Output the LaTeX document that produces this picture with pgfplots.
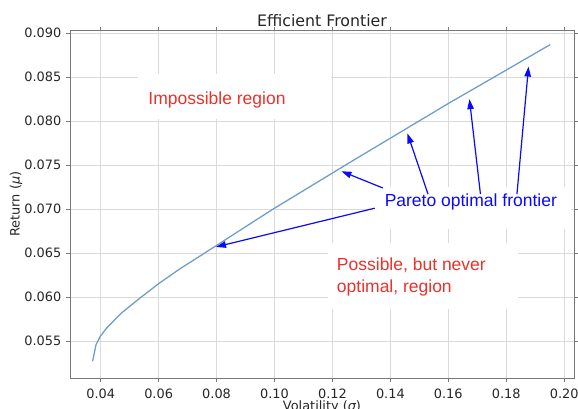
\documentclass[border=0pt]{standalone}
\usepackage{fontspec}
\setmainfont{DejaVu Sans}
\newfontfamily\annfont{Liberation Sans}
\usepackage{pgfplots}
\pgfplotsset{compat=1.18}
\usetikzlibrary{arrows.meta}

\definecolor{frontier}{RGB}{112,158,202}
\definecolor{gridgray}{RGB}{218,218,218}
\definecolor{framegray}{RGB}{120,120,120}
\definecolor{annred}{RGB}{232,50,44}
\definecolor{annblue}{RGB}{10,10,250}

\begin{document}
\begin{tikzpicture}
\begin{axis}[
  name=ax, at={(0,0)}, anchor=south west,
  scale only axis, width=504pt, height=347.5pt,
  xmin=0.0294, xmax=0.2034, ymin=0.0508, ymax=0.0903,
  xtick={0.04,0.06,0.08,0.10,0.12,0.14,0.16,0.18,0.20},
  xticklabels={0.04,0.06,0.08,0.10,0.12,0.14,0.16,0.18,0.20},
  ytick={0.055,0.060,0.065,0.070,0.075,0.080,0.085,0.090},
  yticklabels={0.055,0.060,0.065,0.070,0.075,0.080,0.085,0.090},
  grid=major, major grid style={gridgray, line width=0.8pt},
  axis line style={framegray, line width=0.8pt},
  tick align=outside, major tick length=3.5pt,
  tick style={framegray, line width=0.8pt},
  ticklabel style={font=\fontsize{12.9}{14}\selectfont, text=black!85, inner sep=0pt},
  xticklabel style={anchor=north}, xticklabel shift=7pt,
  yticklabel style={anchor=east}, yticklabel shift=5pt,
  scaled ticks=false,
]
% white label boxes over the grid
\fill[white] (axis cs:0.0529,0.0853) rectangle (axis cs:0.1194,0.0802);
\fill[white] (axis cs:0.1184,0.0662) rectangle (axis cs:0.1839,0.0587);
\fill[white] (axis cs:0.1339,0.0725) rectangle (axis cs:0.2025,0.0677);

% efficient frontier
\addplot[frontier, line width=1.3pt] coordinates {
  (0.0372,0.0527) (0.0384,0.0546) (0.0398,0.0555) (0.0421,0.0565)
  (0.0472,0.0582) (0.0536,0.0599) (0.0599,0.0615) (0.0673,0.0632)
  (0.0754,0.0649) (0.0846,0.06685) (0.0995,0.0700) (0.1260,0.0753)
  (0.1600,0.0820) (0.1800,0.0858) (0.1952,0.0887)
};

% annotations
\node[anchor=base west, inner sep=0pt, text=annred, font=\annfont\fontsize{17.5}{22}\selectfont]
  at (axis cs:0.0564,0.0819) {Impossible region};
\node[anchor=base west, inner sep=0pt, text=annred, font=\annfont\fontsize{17.5}{22}\selectfont]
  at (axis cs:0.1215,0.0630) {Possible, but never};
\node[anchor=base west, inner sep=0pt, text=annred, font=\annfont\fontsize{17.5}{22}\selectfont]
  at (axis cs:0.1215,0.0605) {optimal, region};
\node[anchor=base west, inner sep=0pt, text=annblue, font=\annfont\fontsize{17.5}{22}\selectfont]
  at (axis cs:0.1380,0.07035) {Pareto optimal frontier};

\begin{scope}[annblue, line width=1.2pt, -{Triangle[length=10pt,width=6.5pt]}]
\draw (axis cs:0.1374,0.0724) -- (axis cs:0.1231,0.0743);
\draw (axis cs:0.1530,0.0717) -- (axis cs:0.1459,0.0786);
\draw (axis cs:0.1711,0.0717) -- (axis cs:0.1673,0.0825);
\draw (axis cs:0.1837,0.0717) -- (axis cs:0.1877,0.0862);
\draw (axis cs:0.1346,0.0701) -- (axis cs:0.0798,0.0657);
\end{scope}
\end{axis}

\node[anchor=base, inner sep=0pt, font=\fontsize{15.8}{18}\selectfont, text=black!85]
  at ([yshift=4pt]ax.north) {Efficient Frontier};
\node[anchor=north, inner sep=0pt, font=\fontsize{12.9}{15}\selectfont, text=black!85]
  at ([yshift=-22pt]ax.south) {Volatility ({\itshape σ})};
\node[rotate=90, anchor=center, inner sep=0pt, font=\fontsize{12.9}{15}\selectfont, text=black!85]
  at ([xshift=-54pt]ax.west) {Return ({\itshape μ})};

\pgfresetboundingbox
\useasboundingbox (-70pt,-30pt) rectangle (508pt,378pt);
\end{tikzpicture}
\end{document}
